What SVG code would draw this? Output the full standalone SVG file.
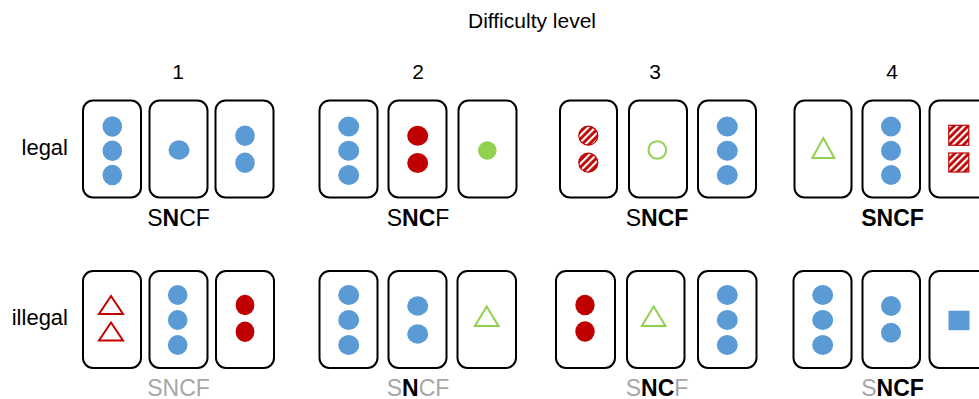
<svg xmlns="http://www.w3.org/2000/svg" width="979" height="399" viewBox="0 0 979 399">
<defs>
<pattern id="hatch" patternUnits="userSpaceOnUse" width="5" height="5" patternTransform="rotate(45)">
<rect width="5" height="5" fill="#C00000"/>
<rect x="0" y="0" width="2.2" height="5" fill="#ffffff"/>
</pattern>
<style>
text{font-family:"Liberation Sans",Arial,sans-serif;fill:#000}
.h{font-size:21px}
.l{font-size:22px}
.s{font-size:23px;text-anchor:middle}
.b{font-weight:bold}
.g{fill:#A6A6A6}
.card{fill:#fff;stroke:#000;stroke-width:2}
.blue{fill:#5B9BD5}
.red{fill:#C00000}
.green{fill:#92D050}
.gl{fill:none;stroke:#92D050;stroke-width:2}
.rl{fill:none;stroke:#C00000;stroke-width:2}
.ht{fill:url(#hatch);stroke:#C00000;stroke-width:1.2}
</style>
</defs>
<rect width="979" height="399" fill="#fff"/>
<g id="labels">
<text class="h" x="532" y="28" text-anchor="middle">Difficulty level</text>
<text class="h" x="178" y="79" text-anchor="middle">1</text>
<text class="h" x="418" y="79" text-anchor="middle">2</text>
<text class="h" x="655" y="79" text-anchor="middle">3</text>
<text class="h" x="892" y="79" text-anchor="middle">4</text>
<text class="l" x="68" y="155" text-anchor="end">legal</text>
<text class="l" x="68" y="325" text-anchor="end">illegal</text>
</g>
<!-- Row 1: legal -->
<g id="l1a"><rect class="card" x="83" y="100.5" width="58" height="97" rx="10"/>
<ellipse class="blue" cx="112.3" cy="126.5" rx="9.8" ry="10.3"/><ellipse class="blue" cx="112.3" cy="150.7" rx="9.8" ry="10.3"/><ellipse class="blue" cx="112.3" cy="175" rx="9.8" ry="10.3"/></g>
<g id="l1b"><rect class="card" x="149.5" y="100.5" width="58" height="97" rx="10"/>
<ellipse class="blue" cx="179" cy="150" rx="10.5" ry="9.7"/></g>
<g id="l1c"><rect class="card" x="215.5" y="100.5" width="58" height="97" rx="10"/>
<ellipse class="blue" cx="245" cy="135.7" rx="9.8" ry="10.3"/><ellipse class="blue" cx="245" cy="162.7" rx="9.8" ry="10.3"/></g>
<text class="s" x="178.5" y="225.5">S<tspan class="b">N</tspan>CF</text>

<g id="l2a"><rect class="card" x="319.5" y="100.5" width="58" height="97" rx="10"/>
<ellipse class="blue" cx="348.7" cy="126.5" rx="10.5" ry="10"/><ellipse class="blue" cx="348.7" cy="150.7" rx="10.5" ry="10"/><ellipse class="blue" cx="348.7" cy="175" rx="10.5" ry="10"/></g>
<g id="l2b"><rect class="card" x="388.5" y="100.5" width="58" height="97" rx="10"/>
<ellipse class="red" cx="417.7" cy="135.7" rx="10.5" ry="10"/><ellipse class="red" cx="417.7" cy="163" rx="10.5" ry="10"/></g>
<g id="l2c"><rect class="card" x="458.5" y="100.5" width="58" height="97" rx="10"/>
<circle class="green" cx="487.3" cy="150.5" r="9.3"/></g>
<text class="s" x="418" y="225.5">S<tspan class="b">NC</tspan>F</text>

<g id="l3a"><rect class="card" x="560" y="100.5" width="57" height="97" rx="10"/>
<circle class="ht" cx="588.3" cy="135.7" r="9.5"/><circle class="ht" cx="588.3" cy="162.7" r="9.5"/></g>
<g id="l3b"><rect class="card" x="629" y="100.5" width="58" height="97" rx="10"/>
<circle class="gl" cx="657.3" cy="150" r="8.8"/></g>
<g id="l3c"><rect class="card" x="698" y="100.5" width="58" height="97" rx="10"/>
<ellipse class="blue" cx="727.3" cy="126.5" rx="10.5" ry="10"/><ellipse class="blue" cx="727.3" cy="150.7" rx="10.5" ry="10"/><ellipse class="blue" cx="727.3" cy="175" rx="10.5" ry="10"/></g>
<text class="s" x="657" y="225.5">S<tspan class="b">NCF</tspan></text>

<g id="l4a"><rect class="card" x="794.5" y="100.5" width="57" height="97" rx="10"/>
<polygon class="gl" points="823.3,138 834.3,158 812.3,158"/></g>
<g id="l4b"><rect class="card" x="862.5" y="100.5" width="57.5" height="97" rx="10"/>
<ellipse class="blue" cx="891" cy="126.5" rx="10" ry="10"/><ellipse class="blue" cx="891" cy="150.7" rx="10" ry="10"/><ellipse class="blue" cx="891" cy="175" rx="10" ry="10"/></g>
<g id="l4c"><rect class="card" x="929.5" y="100.5" width="58" height="97" rx="10"/>
<rect class="ht" x="948.8" y="125.3" width="20" height="20"/><rect class="ht" x="948.8" y="153" width="20" height="19"/></g>
<text class="s b" x="892.5" y="225.5">SNCF</text>

<!-- Row 2: illegal -->
<g id="i1a"><rect class="card" x="83" y="271" width="58" height="97" rx="10"/>
<polygon class="rl" points="111,296 123,314 99,314"/><polygon class="rl" points="111,322.5 123,340.5 99,340.5"/></g>
<g id="i1b"><rect class="card" x="149.5" y="271" width="58" height="97" rx="10"/>
<ellipse class="blue" cx="177.7" cy="295" rx="9.8" ry="10"/><ellipse class="blue" cx="177.7" cy="320" rx="9.8" ry="10"/><ellipse class="blue" cx="177.7" cy="345" rx="9.8" ry="10"/></g>
<g id="i1c"><rect class="card" x="216" y="271" width="58" height="97" rx="10"/>
<ellipse class="red" cx="245" cy="305" rx="9.4" ry="10.2"/><ellipse class="red" cx="245" cy="331.7" rx="9.4" ry="10.2"/></g>
<text class="s g" x="178.5" y="395.5">SNCF</text>

<g id="i2a"><rect class="card" x="319.5" y="271" width="58" height="97" rx="10"/>
<ellipse class="blue" cx="348.7" cy="295" rx="10.5" ry="10"/><ellipse class="blue" cx="348.7" cy="320" rx="10.5" ry="10"/><ellipse class="blue" cx="348.7" cy="345" rx="10.5" ry="10"/></g>
<g id="i2b"><rect class="card" x="388.5" y="271" width="58" height="97" rx="10"/>
<ellipse class="blue" cx="417.7" cy="306" rx="10.5" ry="9.7"/><ellipse class="blue" cx="417.7" cy="334" rx="10.5" ry="9.7"/></g>
<g id="i2c"><rect class="card" x="457.5" y="271" width="58.5" height="97" rx="10"/>
<polygon class="gl" points="486.7,306.5 498.5,326 474.9,326"/></g>
<text class="s g" x="418" y="395.5">S<tspan class="b" style="fill:#000">N</tspan>CF</text>

<g id="i3a"><rect class="card" x="556" y="271" width="59" height="97" rx="10"/>
<ellipse class="red" cx="585" cy="305" rx="9.7" ry="10.3"/><ellipse class="red" cx="585" cy="331.5" rx="9.7" ry="10.3"/></g>
<g id="i3b"><rect class="card" x="627" y="271" width="57.5" height="97" rx="10"/>
<polygon class="gl" points="653.7,306.5 665.5,326 641.9,326"/></g>
<g id="i3c"><rect class="card" x="698" y="271" width="58.5" height="97" rx="10"/>
<ellipse class="blue" cx="727.3" cy="295" rx="10.5" ry="10"/><ellipse class="blue" cx="727.3" cy="320" rx="10.5" ry="10"/><ellipse class="blue" cx="727.3" cy="345" rx="10.5" ry="10"/></g>
<text class="s g" x="657" y="395.5">S<tspan class="b" style="fill:#000">NC</tspan>F</text>

<g id="i4a"><rect class="card" x="793.5" y="271" width="58" height="97" rx="10"/>
<ellipse class="blue" cx="822.7" cy="295" rx="10.5" ry="10"/><ellipse class="blue" cx="822.7" cy="320" rx="10.5" ry="10"/><ellipse class="blue" cx="822.7" cy="345" rx="10.5" ry="10"/></g>
<g id="i4b"><rect class="card" x="862.5" y="271" width="57.5" height="97" rx="10"/>
<ellipse class="blue" cx="891" cy="306" rx="10" ry="10"/><ellipse class="blue" cx="891" cy="332.7" rx="10" ry="10"/></g>
<g id="i4c"><rect class="card" x="929.5" y="271" width="58" height="97" rx="10"/>
<rect class="blue" x="948.5" y="310.7" width="21" height="19.5"/></g>
<text class="s g" x="892.5" y="395.5">S<tspan class="b" style="fill:#000">NCF</tspan></text>
</svg>
